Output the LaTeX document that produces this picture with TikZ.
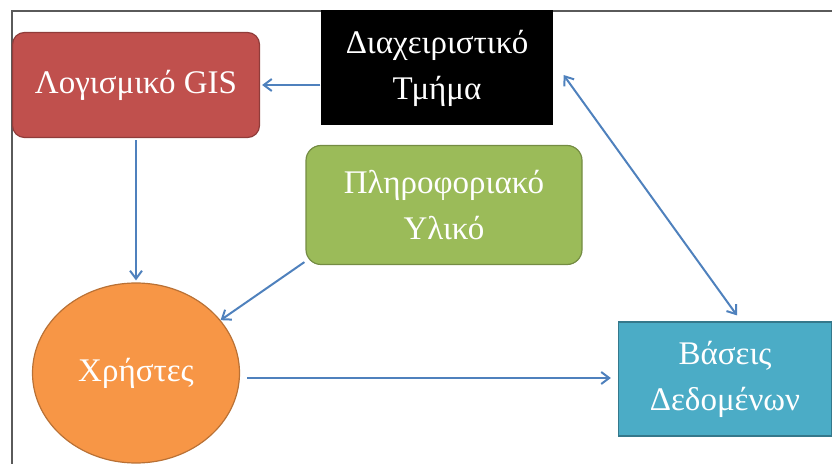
\documentclass[tikz,border=0pt]{standalone}
\usepackage{fontspec}
\setmainfont{Liberation Serif}
\usepackage{tikz}
\usetikzlibrary{arrows.meta,positioning,shapes.geometric}
\definecolor{gisred}{HTML}{C0504D}
\definecolor{infogreen}{HTML}{9BBB59}
\definecolor{userorange}{HTML}{F79646}
\definecolor{dbblue}{HTML}{4BACC6}
\definecolor{linkblue}{HTML}{4F81BD}
\definecolor{framegray}{HTML}{5A5A5A}

\begin{document}
\begin{tikzpicture}[x=1pt,y=1pt,
  blk/.style={text=white,align=center,inner sep=0pt,line width=1.2pt,
    font=\fontsize{33}{46}\selectfont},
  link/.style={draw=linkblue,line width=2pt,-{Straight Barb[length=8pt,width=12pt]}}]
  \useasboundingbox (0,0) rectangle (832,463);
  \clip (0,0) rectangle (832,463);
  \draw[framegray,line width=1.5pt] (12,-10) -- (12,452) -- (850,452);
  \node[blk,rectangle,rounded corners=12pt,fill=gisred,draw=gisred!75!black,
    minimum width=247,minimum height=105] (gis) at (136,378) {Λογισμικό GIS};
  \node[blk,rectangle,fill=black,minimum width=232,minimum height=115]
    (admin) at (437,395) {Διαχειριστικό\\Τμήμα};
  \node[blk,rectangle,rounded corners=15pt,fill=infogreen,draw=infogreen!75!black,
    minimum width=276,minimum height=119] (info) at (444,258) {Πληροφοριακό\\Υλικό};
  \node[blk,ellipse,fill=userorange,draw=userorange!75!black,
    minimum width=207,minimum height=180] (users) at (136,90) {Χρήστες};
  \node[blk,rectangle,fill=dbblue,draw=dbblue!70!black,
    minimum width=213,minimum height=114] (db) at (725,84) {Βάσεις\\Δεδομένων};
  \draw[link] (admin.west |- gis.east) -- ([xshift=2pt]gis.east);
  \draw[link] ([yshift=-2pt]gis.south) -- ([yshift=2pt]users.north);
  \draw[link] ([xshift=-1pt,yshift=3pt]info.south west) -- (users.32);
  \draw[link,shorten <=7pt,shorten >=7pt] ([yshift=-5pt]users.east) -- ([yshift=-5pt]users.east -| db.west);
  \draw[link,{Straight Barb[length=8pt,width=12pt]}-{Straight Barb[length=8pt,width=12pt]}]
    ([xshift=10pt,yshift=-7pt]admin.east) -- ([xshift=12pt,yshift=6pt]db.north);
\end{tikzpicture}
\end{document}
